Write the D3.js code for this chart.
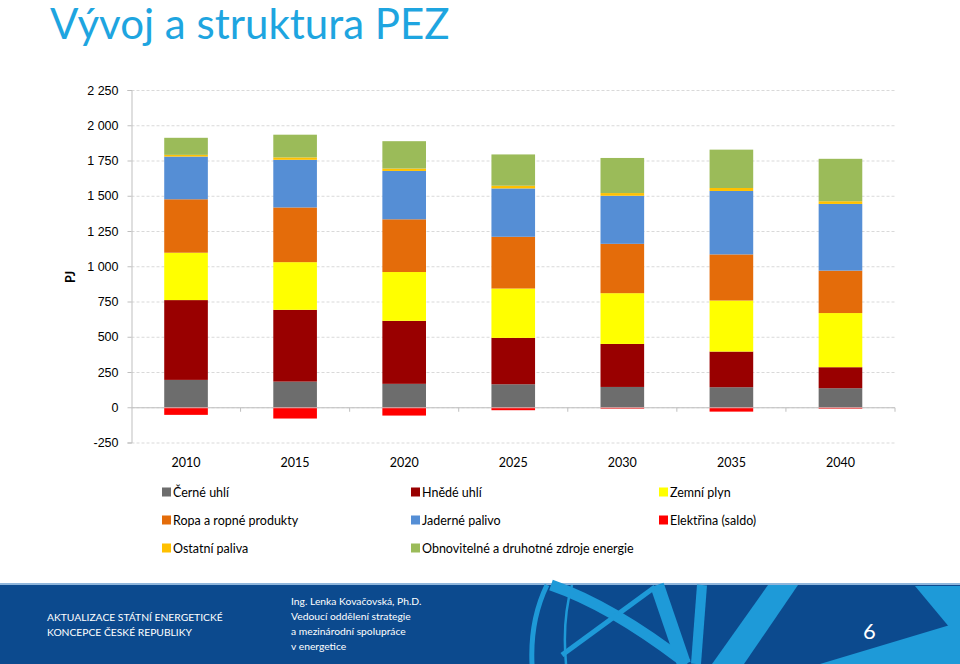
<!DOCTYPE html>
<html>
<head>
<meta charset="utf-8">
<title>Vývoj a struktura PEZ</title>
<script src="https://d3js.org/d3.v7.min.js"></script>
<style>
  body { margin: 0; background: #fff; }
  svg { display: block; font-family: Lato, "Open Sans", sans-serif; }
  .tick text { font-size: 12.5px; fill: #000; }
  .legend text { font-size: 12.5px; fill: #000; }
  .foot text { fill: #fff; font-size: 10.3px; }
</style>
</head>
<body>
<svg width="960" height="664"></svg>
<script>
// roky
const years = ["2010", "2015", "2020", "2025", "2030", "2035", "2040"];

// hodnoty v PJ
const cerneUhli     = [194, 182, 166, 163, 144, 142, 135];
const hnedeUhli     = [566, 509, 447, 329, 305, 253, 149];
const zemniPlyn     = [336, 338, 346, 350, 360, 362, 384];
const ropa          = [379, 388, 374, 367, 350, 327, 301];
const jaderne       = [303, 338, 343, 343, 341, 450, 473];
const elektrina     = [-54, -80, -59, -21, -10, -31, -10];
const ostatni       = [12, 17, 17, 19, 19, 21, 19];
const obnovitelne   = [121, 161, 194, 222, 249, 272, 301];

const yTicks = [-250, 0, 250, 500, 750, 1000, 1250, 1500, 1750, 2000, 2250];

const series = [
  { key: "Černé uhlí", values: cerneUhli, color: "#6d6d6d" },
  { key: "Hnědé uhlí", values: hnedeUhli, color: "#990000" },
  { key: "Zemní plyn", values: zemniPlyn, color: "#ffff00" },
  { key: "Ropa a ropné produkty", values: ropa, color: "#e46c0a" },
  { key: "Jaderné palivo", values: jaderne, color: "#558ed5" },
  { key: "Elektřina (saldo)", values: elektrina, color: "#ff0000" },
  { key: "Ostatní paliva", values: ostatni, color: "#ffc000" },
  { key: "Obnovitelné a druhotné zdroje energie", values: obnovitelne, color: "#9bbb59" }
];

const svg = d3.select("svg");

// nadpis
svg.append("text")
  .attr("x", 50).attr("y", 39)
  .style("font-size", "42px")
  .attr("fill", "#1ea5e0")
  .text("Vývoj a struktura PEZ");

// tabulka pro d3.stack
const table = years.map((y, i) => {
  const row = { year: y };
  series.forEach(s => row[s.key] = s.values[i]);
  return row;
});

const stack = d3.stack()
  .keys(series.map(s => s.key))
  .offset(d3.stackOffsetDiverging);
const layers = stack(table);

const x = d3.scaleBand().domain(years).range([131.5, 895]).paddingInner(0.6).paddingOuter(0.3);
const xb = d3.scaleBand().domain(years).range([131.5, 895]);
const y = d3.scaleLinear().domain([-250, 2250]).range([442.5, 90]);

// mřížka
svg.append("g")
  .selectAll("line")
  .data(yTicks)
  .join("line")
  .attr("x1", 131.5).attr("x2", 895)
  .attr("y1", d => y(d) + 0.5).attr("y2", d => y(d) + 0.5)
  .attr("stroke", "#d9d9d9")
  .attr("stroke-dasharray", "3,2");

// sloupce
svg.append("g")
  .selectAll("g")
  .data(layers)
  .join("g")
  .attr("fill", (d, i) => series[i].color)
  .selectAll("rect")
  .data(d => d)
  .join("rect")
  .attr("x", d => x(d.data.year))
  .attr("width", x.bandwidth())
  .attr("y", d => y(Math.max(d[0], d[1])))
  .attr("height", d => Math.abs(y(d[0]) - y(d[1])));

// osa y
const yAxis = svg.append("g")
  .attr("transform", "translate(131.5,0)")
  .call(d3.axisLeft(y).tickValues(yTicks).tickSize(4).tickPadding(9)
    .tickFormat(d => d3.format(",")(d).replace(/,/g, " ").replace("−", "-")));
yAxis.select(".domain").attr("stroke", "#bfbfbf");
yAxis.selectAll(".tick line").attr("stroke", "#bfbfbf");

// osa x v nule
const zeroY = y(0) + 0.5;
svg.append("line")
  .attr("x1", 131.5).attr("x2", 895)
  .attr("y1", zeroY).attr("y2", zeroY)
  .attr("stroke", "#bfbfbf");
svg.append("g")
  .selectAll("line")
  .data(years)
  .join("line")
  .attr("x1", d => xb(d) + xb.bandwidth()).attr("x2", d => xb(d) + xb.bandwidth())
  .attr("y1", zeroY).attr("y2", zeroY + 4)
  .attr("stroke", "#bfbfbf");

// popisky let
svg.append("g")
  .selectAll("text")
  .data(years)
  .join("text")
  .attr("x", d => xb(d) + xb.bandwidth() / 2)
  .attr("y", 467)
  .attr("text-anchor", "middle")
  .attr("font-size", 12.5)
  .text(d => d);

// PJ
svg.append("text")
  .attr("transform", "translate(75,277) rotate(-90)")
  .attr("text-anchor", "middle")
  .attr("font-size", 12.5)
  .attr("font-weight", "bold")
  .text("PJ");

// legenda
const legendOrder = [
  "Černé uhlí", "Hnědé uhlí", "Zemní plyn",
  "Ropa a ropné produkty", "Jaderné palivo", "Elektřina (saldo)",
  "Ostatní paliva", "Obnovitelné a druhotné zdroje energie"
];
const colX = [162, 411, 659];
const rowY = [492, 520, 548];
const legend = svg.append("g").attr("class", "legend")
  .selectAll("g")
  .data(legendOrder)
  .join("g")
  .attr("transform", (d, i) => `translate(${colX[i % 3]},${rowY[Math.floor(i / 3)]})`);
legend.append("rect")
  .attr("x", 0).attr("y", -4.5).attr("width", 9).attr("height", 9)
  .attr("fill", d => series.find(s => s.key === d).color);
legend.append("text")
  .attr("x", 11).attr("y", 4.5)
  .text(d => d);

// patička
const foot = svg.append("g").attr("class", "foot");
foot.append("rect").attr("x", 0).attr("y", 583).attr("width", 960).attr("height", 81).attr("fill", "#0c4a8e");
foot.append("rect").attr("x", 0).attr("y", 583).attr("width", 960).attr("height", 2).attr("fill", "#8fb6dc");

const light = "#1e9ad8";
const deco = foot.append("g").attr("fill", "none").attr("stroke", light);
deco.append("path").attr("d", "M547,585 Q530,620 532,664").attr("stroke-width", 5);
deco.append("path").attr("d", "M572,585 Q562,620 566,664").attr("stroke-width", 2.5);
deco.append("path").attr("d", "M551,585 Q612,606 687,664").attr("stroke-width", 11);
deco.append("path").attr("d", "M657,585 L684,664").attr("stroke-width", 14);
deco.append("path").attr("d", "M655,587 L562,655").attr("stroke-width", 5);
deco.append("path").attr("d", "M702,585 L696,664").attr("stroke-width", 10);
foot.append("polygon").attr("points", "768,585 798,585 744,664 712,664").attr("fill", light);
foot.append("polygon").attr("points", "820,664 960,622 960,664").attr("fill", light);
foot.append("polygon").attr("points", "915,586 960,586 960,640").attr("fill", light);

foot.append("text").attr("x", 47).attr("y", 621).text("AKTUALIZACE STÁTNÍ ENERGETICKÉ");
foot.append("text").attr("x", 47).attr("y", 636).text("KONCEPCE ČESKÉ REPUBLIKY");
["Ing. Lenka Kovačovská, Ph.D.", "Vedoucí oddělení strategie", "a mezinárodní spolupráce", "v energetice"]
  .forEach((t, i) => foot.append("text").attr("x", 291).attr("y", 605 + i * 15).text(t));
foot.append("text").attr("x", 863).attr("y", 639).style("font-size", "22px").text("6");
</script>
</body>
</html>
